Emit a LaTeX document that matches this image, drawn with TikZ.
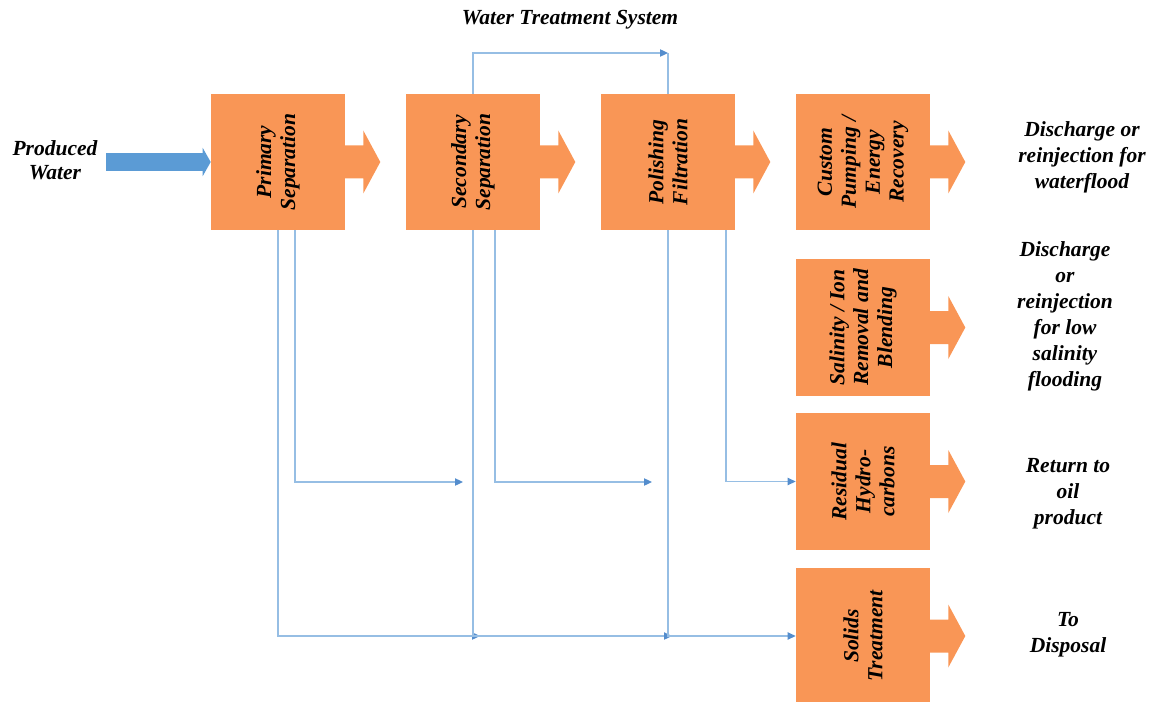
\documentclass[tikz,border=0pt]{standalone}
\usepackage{fontspec}
\setmainfont{Liberation Serif}
\usepackage{xcolor}
\usepackage{tikz}
\usetikzlibrary{
    calc,
    positioning,
    arrows.meta
}

\begin{document}
\begin{tikzpicture}[
    x=0.025cm, y=-0.025cm,
    font=\fontsize{15.3}{17}\selectfont\bfseries\itshape,
    box/.style={
    	fill=my-orange,
    	minimum width=3.35cm,
    	minimum height=3.4cm, inner sep=0pt
    }, boxtext/.style={
    	rotate=90, align=center, inner sep=0pt
    }, outtext/.style={
    	align=center,
    	font=\fontsize{15.3}{18.5}\selectfont\bfseries\itshape
    }, pil/.style={
    	draw=my-lightblue,
    	line width=0.04cm,
    	-{Triangle[length=0.2cm, width=0.18cm, color=my-blue]}
    }, pil2/.style={
    	draw=my-lightblue,
    	line width=0.04cm
    }]
    \definecolor{my-orange}{RGB}{249, 150, 86}
    \definecolor{my-blue}{RGB}{84, 141, 205}
    \definecolor{my-lightblue}{RGB}{150, 190, 228}
    \definecolor{my-feed}{RGB}{91, 155, 213}

    \useasboundingbox (0,0) rectangle (1150,702);

    \node (title) at (570,20) {Water Treatment System};
    \node[align=center] (produced) at (55,160) {Produced\\Water};

    \node[box] (primary) at (278,162) {};
    \node[box] (secondary) at (473,162) {};
    \node[box] (polishing) at (668,162) {};
    \node[box] (custom) at (863,162) {};
    \node[box] (salinity) at (863,327.5) {};
    \node[box] (residual) at (863,481.5) {};
    \node[box] (solids) at (863,636) {};

    \foreach \b in {primary, secondary, polishing, custom, salinity, residual, solids}
        \fill[my-orange] (\b.east) ++(-1,-16.5) -- ++(19,0) -- ++(0,-15) -- ++(17,31.5)
            -- ++(-17,31.5) -- ++(0,-15) -- ++(-19,0) -- cycle;

    \node[boxtext] (primary-txt) at (primary) {Primary\\Separation};
    \node[boxtext] (secondary-txt) at (secondary) {Secondary\\Separation};
    \node[boxtext] (polishing-txt) at (polishing) {Polishing\\Filtration};
    \node[boxtext] (custom-txt) at (custom) {Custom\\Pumping /\\Energy\\Recovery};
    \node[boxtext] (salinity-txt) at (salinity) {Salinity / Ion\\Removal and\\Blending};
    \node[boxtext] (residual-txt) at (residual) {Residual\\Hydro-\\carbons};
    \node[boxtext] (solids-txt) at (solids) {Solids\\Treatment};

    \node[outtext] (out-waterflood) at (1082,157) {Discharge or\\reinjection for\\waterflood};
    \node[outtext] (out-lowsal) at (1065,316) {Discharge\\or\\reinjection\\for low\\salinity\\flooding};
    \node[outtext] (out-oil) at (1068,494) {Return to\\oil\\product};
    \node[outtext] (out-disposal) at (1068,635) {To\\Disposal};

    % feed
    \coordinate (feed) at (106,162);
    \draw[draw=my-feed, line width=0.425cm, -{Triangle[length=0.2cm, width=0.7cm]}] (feed) -- (primary.west);

    % bypass over the top
    \coordinate (topturn) at (668,53);
    \draw[pil] (secondary.north) |- (topturn);
    \draw[pil2] (topturn) -- (polishing.north);

    % lower lines
    \coordinate (upbus) at (0,482);
    \coordinate (lowbus) at (0,636);
    \draw[pil] (primary.south) |- ($(secondary.south|-lowbus)+(7,0)$);
    \draw[pil] (secondary.south) |- ($(polishing.south|-lowbus)+(4,0)$);
    \draw[pil] (polishing.south) |- (solids.west);

    \draw[pil] ($(primary.south)+(17,0)$) |- ($(secondary.south|-upbus)+(-10,0)$);
    \draw[pil] ($(secondary.south)+(22,0)$) |- ($(polishing.south|-upbus)+(-16,0)$);
    \draw[pil] ($(polishing.south)+(58,0)$) |- (residual.west);

\end{tikzpicture}
\end{document}
